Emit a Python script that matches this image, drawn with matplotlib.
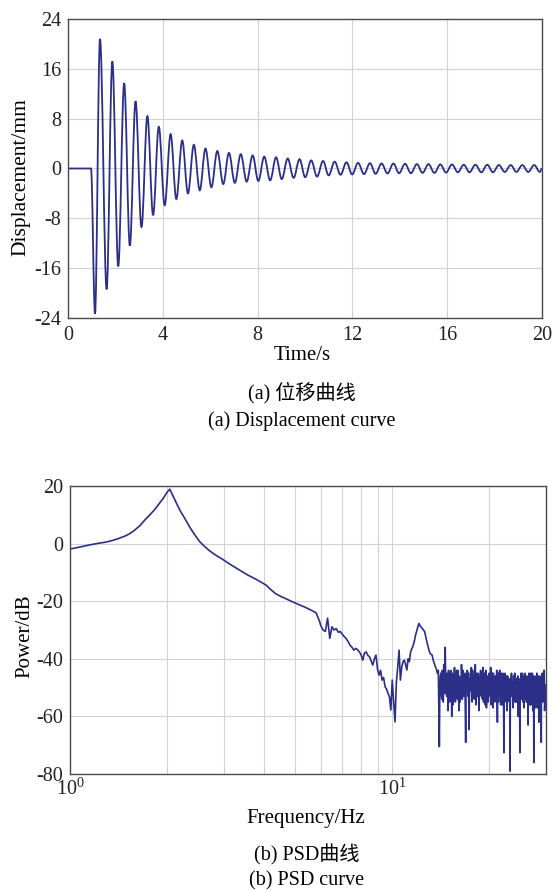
import numpy as np
import matplotlib
matplotlib.use("Agg")
import matplotlib.pyplot as plt
from matplotlib.path import Path
from matplotlib.patches import PathPatch
from matplotlib.ticker import FixedLocator, NullFormatter, FixedFormatter

plt.rcParams['font.family'] = ['Liberation Serif', 'Noto Sans CJK SC', 'DejaVu Sans']
plt.rcParams['mathtext.fontset'] = 'custom'
plt.rcParams['mathtext.rm'] = 'Liberation Serif'
plt.rcParams['mathtext.it'] = 'Liberation Serif:italic'
plt.rcParams['axes.unicode_minus'] = False

# ---------------- Data: displacement (extrema) ----------------
disp_time = [0.0, 0.97,
             1.14, 1.35, 1.63, 1.87, 2.12, 2.37, 2.61, 2.85, 3.10, 3.35, 3.59, 3.83,
             4.08, 4.33, 4.57, 4.82, 5.06, 5.31, 5.56, 5.80, 6.05, 6.30, 6.55, 6.79,
             7.04, 7.29, 7.54, 7.79, 8.03, 8.28, 8.53, 8.78, 9.02, 9.27, 9.52, 9.77,
             10.01, 10.26, 10.51, 10.76, 11.00, 11.25, 11.50, 11.75, 11.99, 12.24,
             12.49, 12.74, 12.98, 13.23, 13.48, 13.73, 13.97, 14.22, 14.47, 14.72,
             14.96, 15.21, 15.46, 15.71, 15.95, 16.20, 16.45, 16.70, 16.94, 17.19,
             17.44, 17.69, 17.93, 18.18, 18.43, 18.68, 18.92, 19.17, 19.42, 19.67,
             19.91, 20.0]
disp_mm = [0.0, 0.0,
           -23.3, 20.8, -19.4, 17.2, -15.7, 13.7, -12.4, 10.8, -9.4, 8.4, -7.5, 6.7,
           -5.9, 5.5, -4.9, 4.5, -4.0, 3.8, -3.5, 3.2, -3.0, 2.8, -2.5, 2.5,
           -2.3, 2.3, -2.1, 2.1, -2.0, 1.9, -1.9, 1.8, -1.7, 1.6, -1.5, 1.5,
           -1.4, 1.3, -1.3, 1.2, -1.1, 1.1, -1.0, 1.0, -0.95, 0.9,
           -0.9, 0.85, -0.85, 0.8, -0.8, 0.8, -0.75, 0.75, -0.75, 0.7,
           -0.7, 0.7, -0.7, 0.65, -0.65, 0.65, -0.6, 0.6, -0.6, 0.6,
           -0.6, 0.6, -0.6, 0.55, -0.55, 0.55, -0.55, 0.55, -0.55, 0.55,
           -0.55, 0.0]

# ---------------- Data: PSD ----------------
psd_low_freq = [1.00, 1.06, 1.113, 1.17, 1.224, 1.29, 1.346, 1.41, 1.48, 1.54,
                1.589, 1.65, 1.707, 1.77, 1.834, 1.89, 1.946, 2.00, 2.04, 2.09,
                2.14, 2.20, 2.27, 2.35, 2.44, 2.525, 2.61, 2.71, 2.84, 2.98,
                3.16, 3.36, 3.56, 3.78, 3.92, 4.06, 4.20, 4.36, 4.52, 4.69,
                4.92, 5.16, 5.34, 5.53, 5.80, 5.95]
psd_low_db = [-1.9, -1.3, -0.8, -0.3, 0.1, 0.5, 1.0, 1.7, 2.6, 3.6,
              4.7, 6.3, 8.2, 10.0, 11.9, 13.8, 15.7, 17.8, 18.9, 16.4,
              14.0, 11.3, 8.8, 5.8, 3.0, 0.7, -0.9, -2.5, -4.1, -5.5,
              -7.4, -9.2, -10.9, -12.4, -13.4, -14.4, -16.0, -17.5, -18.4, -19.2,
              -20.3, -21.3, -22.0, -22.8, -24.0, -27.0]

# 6.0 - 13.9 Hz, 0.1 Hz bins
psd_mid_db = [-28.5, -30.0, -30.5, -25.9, -32.9, -28.9, -30.0, -29.5, -30.8, -30.5,
              -31.5, -32.3, -33.0, -34.1, -35.3, -36.0, -37.0, -36.4, -36.8, -37.6,
              -38.5, -40.5, -38.0, -37.6, -38.8, -39.3, -40.8, -42.2, -40.0, -38.7,
              -43.5, -45.7, -44.0, -47.4, -46.5, -49.7, -50.5, -52.0, -53.2, -57.8,
              -47.4, -55.0, -61.9, -48.0, -42.8, -37.0, -47.4, -43.0, -41.0, -40.5,
              -42.0, -43.9, -40.0, -41.0, -37.6, -36.5, -35.5, -34.1, -32.0, -30.5,
              -29.0, -27.7, -28.5, -29.0, -29.5, -30.0, -30.5, -32.3, -34.0, -35.5,
              -37.0, -38.1, -38.5, -38.7, -40.5, -41.5, -42.7, -43.5, -45.0, -44.0]

# 14.0 - 30.0 Hz, 0.1 Hz bins
psd_high_db = [-70.5, -46, -52, -44, -55, -47, -36, -50, -45, -58,
               -46, -53, -44, -60, -47, -51, -43, -55, -46, -50,
               -44, -58, -48, -52, -42, -54, -47, -51, -45, -69,
               -49, -44, -53, -64.6, -47, -50, -43, -55, -48, -46,
               -52, -42, -56, -47, -50, -45, -58, -48, -44, -53,
               -49, -43, -55, -47, -51, -44, -57, -48, -46, -52,
               -45, -50, -43, -56, -47, -53, -45, -49, -55, -46,
               -51, -44, -62, -48, -45, -53, -47, -56, -45, -50,
               -47, -54, -72.6, -48, -45, -52, -49, -58, -46, -51,
               -48, -55, -79, -50, -46, -53, -48, -57, -46, -52,
               -45, -55, -49, -47, -54, -46, -60, -50, -47, -72.6,
               -49, -45, -54, -48, -51, -46, -57, -49, -45, -53,
               -48, -55, -46, -51, -63, -48, -45, -52, -49, -56,
               -47, -52, -45, -58, -49, -76, -50, -46, -54, -48,
               -51, -45, -57, -49, -47, -62, -50, -46, -53, -48,
               -69, -50, -45, -54, -47, -52, -44, -58, -49, -53,
               -50]

# 14.05 - 29.95 Hz, the in-between 0.1 Hz bins
psd_high_half_db = [-50, -45, -54, -48, -42, -52, -47, -53, -49, -44,
                    -55, -48, -51, -45, -56, -47, -50, -52, -44, -54,
                    -49, -46, -55, -50, -47, -44, -53, -48, -57, -46,
                    -52, -48, -45, -55, -51, -46, -53, -44, -50, -54,
                    -47, -51, -45, -53, -49, -55, -46, -52, -48, -45,
                    -54, -47, -50, -45, -56, -48, -52, -46, -55, -49,
                    -46, -53, -48, -51, -45, -57, -49, -47, -52, -54,
                    -48, -52, -46, -55, -49, -44, -53, -50, -47, -56,
                    -45, -51, -49, -55, -47, -52, -46, -54, -50, -48,
                    -53, -47, -56, -49, -45, -52, -48, -55, -50, -46,
                    -51, -47, -55, -49, -53, -46, -52, -48, -56, -50,
                    -47, -53, -49, -45, -55, -48, -51, -54, -46, -50,
                    -52, -46, -55, -49, -47, -53, -50, -56, -48, -45,
                    -50, -54, -47, -52, -46, -55, -49, -51, -57, -47,
                    -53, -48, -51, -55, -46, -50, -54, -48, -52, -56,
                    -47, -53, -49, -55, -46, -51, -48, -56, -50, -54]

psd_mid_freq = np.round(6.0 + 0.1 * np.arange(len(psd_mid_db)), 2)
psd_high_freq = np.round(14.0 + 0.1 * np.arange(len(psd_high_db)), 2)
psd_high_half_freq = np.round(14.05 + 0.1 * np.arange(len(psd_high_half_db)), 2)

hf = np.concatenate([psd_high_freq, psd_high_half_freq])
hd = np.concatenate([psd_high_db, psd_high_half_db])
order = np.argsort(hf)

psd_freq = np.concatenate([psd_low_freq, psd_mid_freq, hf[order]])
psd_db = np.concatenate([psd_low_db, psd_mid_db, hd[order]])

disp_yticks = [-24, -16, -8, 0, 8, 16, 24]
disp_xticks = [0, 4, 8, 12, 16, 20]
psd_yticks = [-80, -60, -40, -20, 0, 20]

LINE = '#2B2F88'
GRID = '#d2d2d2'
FRAME = '#4a4a4a'

W, H = 554, 891
fig = plt.figure(figsize=(W / 100, H / 100), dpi=100)


def ax_rect(l, t, r, b):
    return [l / W, 1 - b / H, (r - l) / W, (b - t) / H]


def style(ax):
    for s in ax.spines.values():
        s.set_color(FRAME)
        s.set_linewidth(1.0)
    ax.tick_params(which='both', length=0, labelsize=14.5, colors='#222222', pad=5)
    ax.set_axisbelow(True)


def smooth_path(xs, ys, k=0.364):
    """Bezier path through the extrema with flat tangents at each one."""
    verts = [(xs[0], ys[0])]
    codes = [Path.MOVETO]
    for i in range(1, len(xs)):
        xa, ya, xb, yb = xs[i - 1], ys[i - 1], xs[i], ys[i]
        d = xb - xa
        verts += [(xa + k * d, ya), (xb - k * d, yb), (xb, yb)]
        codes += [Path.CURVE4] * 3
    return Path(verts, codes)

# ---- top axes ----
ax1 = fig.add_axes(ax_rect(68, 19, 542, 318))
ax1.add_patch(PathPatch(smooth_path(disp_time, disp_mm), facecolor='none',
                        edgecolor=LINE, lw=1.3))
ax1.set_xlim(0, 20)
ax1.set_ylim(-24, 24)
ax1.set_xticks(disp_xticks)
ax1.set_yticks(disp_yticks)
ax1.grid(True, color=GRID, lw=0.8)
style(ax1)
ax1.tick_params(axis='x', pad=6)
fig.text(21 / W, 1 - 177 / H, 'Displacement/mm', rotation=90, ha='center', va='center', fontsize=15.5)
fig.text(302 / W, 1 - 355 / H, 'Time/s', ha='center', va='center', fontsize=15)
fig.text(302 / W, 1 - 393 / H, '(a) 位移曲线', ha='center', va='center', fontsize=14.5)
fig.text(302 / W, 1 - 421 / H, '(a) Displacement curve', ha='center', va='center', fontsize=14.5)

# ---- bottom axes ----
ax2 = fig.add_axes(ax_rect(70, 486, 546, 774))
ax2.plot(psd_freq, psd_db, color=LINE, lw=1.2)
ax2.set_xscale('log')
ax2.set_xlim(1, 30)
ax2.set_ylim(-80, 20)
ax2.set_yticks(psd_yticks)
ax2.xaxis.set_major_locator(FixedLocator([1, 10]))
ax2.xaxis.set_major_formatter(FixedFormatter([r'$\mathregular{10^0}$', r'$\mathregular{10^1}$']))
ax2.xaxis.set_minor_locator(FixedLocator([2, 3, 4, 5, 6, 7, 8, 9, 20]))
ax2.xaxis.set_minor_formatter(NullFormatter())
ax2.grid(True, which='both', color=GRID, lw=0.8)
style(ax2)
ax2.tick_params(axis='x', pad=3)
fig.text(25 / W, 1 - 636 / H, 'Power/dB', rotation=90, ha='center', va='center', fontsize=15)
fig.text(306 / W, 1 - 818 / H, 'Frequency/Hz', ha='center', va='center', fontsize=15)
fig.text(307 / W, 1 - 855 / H, '(b) PSD曲线', ha='center', va='center', fontsize=14.5)
fig.text(307 / W, 1 - 881 / H, '(b) PSD curve', ha='center', va='center', fontsize=14.5)

fig.savefig('out.png', dpi=100)
